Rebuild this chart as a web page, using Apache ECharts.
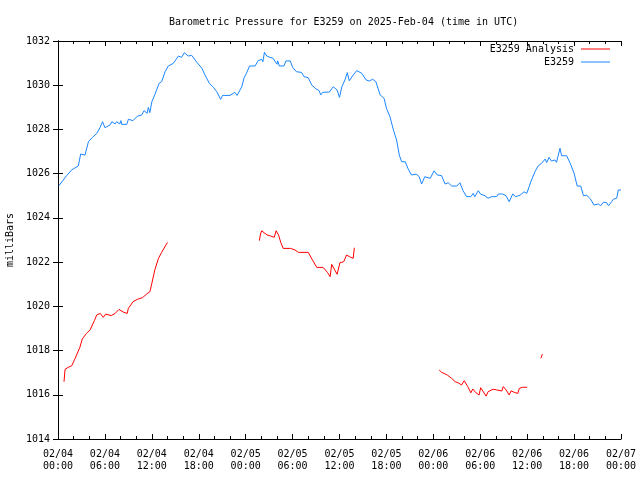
<!DOCTYPE html>
<html>
<head>
<meta charset="utf-8">
<script src="https://cdn.jsdelivr.net/npm/echarts@6/dist/echarts.min.js"></script>
<style>html,body{margin:0;padding:0;background:#fff}#c{width:640px;height:480px}</style>
</head>
<body>
<div id="c"></div>
<script>
// hours since 2025-02-04 00:00 UTC
const blueTime = [0.1,0.26,1.1,1.75,2.6,2.9,3.45,3.9,4.4,4.95,5.4,5.7,6.0,6.65,6.9,7.3,7.5,7.9,8.05,8.15,8.8,9.0,9.6,10.15,10.7,11.0,11.4,11.55,11.75,12.0,12.4,12.6,12.95,13.25,13.7,14.1,14.75,15.4,15.8,16.15,16.65,17.1,17.7,18.4,18.8,19.35,19.86,20.3,20.8,21.05,22.0,22.6,22.9,23.5,23.8,24.1,24.5,25.2,25.6,26.05,26.2,26.4,26.7,27.1,27.5,28.0,28.1,28.3,28.9,29.15,29.7,30.0,30.5,31.15,31.45,32.0,32.45,32.9,33.4,33.6,33.85,34.7,35.2,35.7,36.0,36.3,36.7,37.0,37.25,37.75,38.2,38.85,39.4,39.8,40.25,40.65,41.2,41.7,42.0,42.45,42.9,43.3,43.65,43.95,44.4,44.8,45.2,45.8,46.2,46.5,46.9,47.6,48.1,48.5,49.05,49.5,49.9,50.35,51.0,51.4,51.8,52.25,52.8,53.1,53.3,53.75,54.05,54.6,55.0,55.45,56.1,56.3,56.85,57.3,57.7,58.15,58.55,59.1,59.6,59.95,60.25,60.55,61.0,61.4,61.85,62.3,62.5,62.8,63.1,63.55,63.75,64.2,64.4,65.05,65.5,66.0,66.4,66.85,67.2,67.6,68.1,68.55,69.1,69.4,69.75,70.15,70.4,70.8,71.0,71.45,71.65,72.0];
const bluePressure = [1025.45,1025.52,1025.91,1026.17,1026.35,1026.89,1026.84,1027.45,1027.64,1027.82,1028.10,1028.35,1028.08,1028.2,1028.35,1028.25,1028.35,1028.25,1028.4,1028.23,1028.23,1028.46,1028.4,1028.6,1028.65,1028.85,1028.73,1029.0,1028.76,1029.25,1029.59,1029.78,1030.09,1030.16,1030.61,1030.87,1030.99,1031.32,1031.26,1031.47,1031.32,1031.35,1031.06,1030.77,1030.46,1030.09,1029.91,1029.71,1029.36,1029.54,1029.54,1029.68,1029.54,1029.93,1030.34,1030.54,1030.87,1030.87,1031.11,1031.17,1031.06,1031.49,1031.32,1031.26,1031.22,1030.95,1031.1,1030.87,1030.87,1031.1,1031.1,1030.81,1030.61,1030.58,1030.39,1030.34,1030.01,1029.86,1029.75,1029.56,1029.68,1029.69,1029.93,1029.78,1029.45,1029.93,1030.24,1030.57,1030.2,1030.46,1030.66,1030.54,1030.24,1030.19,1030.27,1030.16,1029.56,1029.41,1028.96,1028.58,1027.97,1027.52,1026.84,1026.54,1026.54,1026.2,1025.94,1025.98,1025.86,1025.53,1025.86,1025.79,1026.13,1025.94,1025.91,1025.53,1025.59,1025.44,1025.44,1025.59,1025.23,1024.96,1024.96,1025.11,1024.96,1025.23,1025.07,1025.0,1024.89,1024.96,1024.96,1025.08,1025.08,1025.0,1024.73,1025.08,1024.96,1025.03,1025.18,1025.11,1025.41,1025.71,1026.09,1026.35,1026.47,1026.66,1026.5,1026.74,1026.57,1026.62,1026.51,1027.15,1026.81,1026.81,1026.47,1026.02,1025.44,1025.44,1025.0,1025.03,1024.85,1024.58,1024.63,1024.55,1024.71,1024.69,1024.55,1024.73,1024.84,1024.89,1025.26,1025.26];
// null marks a gap in the analysis series
const redTime = [0.77,0.9,1.3,1.75,2.2,2.8,3.1,3.65,4.1,4.65,4.95,5.4,5.65,5.8,6.1,6.8,7.3,7.8,8.35,8.85,9.0,9.6,10.15,10.8,11.35,11.75,12.0,12.4,12.85,13.25,14.0,
  20,
  25.75,25.9,26.05,26.35,26.75,27.2,27.65,27.9,28.2,28.5,28.8,29.75,30.3,30.75,32.0,32.55,33.1,33.9,34.45,34.8,35.0,35.4,35.7,36.05,36.55,36.9,37.3,37.75,37.9,
  43,
  48.75,49.05,49.8,50.35,50.8,51.3,51.6,51.95,52.4,52.8,53.05,53.45,53.85,54.05,54.75,55.0,55.65,56.1,56.75,56.95,57.3,57.7,57.95,58.35,58.8,59.0,59.4,60.0,
  61,
  61.75,61.95];
const redPressure = [1016.59,1017.15,1017.24,1017.31,1017.65,1018.15,1018.52,1018.78,1018.93,1019.35,1019.61,1019.68,1019.73,1019.5,1019.65,1019.58,1019.68,1019.86,1019.74,1019.68,1019.91,1020.21,1020.32,1020.39,1020.56,1020.66,1021.04,1021.67,1022.17,1022.44,1022.89,
  null,
  1022.97,1023.27,1023.42,1023.33,1023.23,1023.18,1023.12,1023.42,1023.23,1022.88,1022.62,1022.62,1022.55,1022.44,1022.44,1022.09,1021.76,1021.76,1021.54,1021.34,1021.9,1021.64,1021.45,1021.97,1022.02,1022.32,1022.24,1022.17,1022.65,
  null,
  1017.12,1017.02,1016.89,1016.74,1016.59,1016.52,1016.44,1016.64,1016.37,1016.09,1016.26,1016.09,1015.99,1016.32,1015.94,1016.14,1016.25,1016.22,1016.17,1016.37,1016.22,1015.99,1016.18,1016.11,1016.06,1016.29,1016.34,1016.34,
  null,
  1017.65,1017.84];
const tickDates = ['02/04','02/04','02/04','02/04','02/05','02/05','02/05','02/05','02/06','02/06','02/06','02/06','02/07'];
const tickTimes = ['00:00','06:00','12:00','18:00','00:00','06:00','12:00','18:00','00:00','06:00','12:00','18:00','00:00'];
const seriesNames = ['E3259 Analysis','E3259'];
const titleText = 'Barometric Pressure for E3259 on 2025-Feb-04 (time in UTC)';
const yName = 'milliBars';

const FONT = 'DejaVu Sans Mono';
const chart = echarts.init(document.getElementById('c'), null, {renderer:'canvas'});
const pairs = (t, p) => t.map((x, i) => [x, p[i] === null ? '-' : p[i]]);
const axisBase = {
  type: 'value', min: 0, max: 72, interval: 6,
  axisLine: {lineStyle: {color: '#000', width: 1}},
  axisTick: {inside: true, length: 5, lineStyle: {color: '#000'}},
  minorTick: {show: true, splitNumber: 3, length: 3, lineStyle: {color: '#000'}},
  splitLine: {show: false}
};
chart.setOption({
  animation: false,
  backgroundColor: '#fff',
  textStyle: {fontFamily: FONT},
  title: {text: titleText, left: 164, top: 12,
    textStyle: {fontFamily: FONT, fontSize: 10, fontWeight: 'normal', color: '#000'}},
  legend: [
    {data: [seriesNames[0]], right: 30, top: 44, orient: 'vertical', align: 'right', icon: 'rect',
     itemWidth: 29, itemHeight: 1, itemGap: 0, padding: 0,
     textStyle: {fontFamily: FONT, fontSize: 10, color: '#000', padding: [0, 2, 0, 0]}},
    {data: [seriesNames[1]], right: 30, top: 57, orient: 'vertical', align: 'right', icon: 'rect',
     itemWidth: 29, itemHeight: 1, itemGap: 0, padding: 0,
     textStyle: {fontFamily: FONT, fontSize: 10, color: '#000', padding: [0, 2, 0, 0]}}
  ],
  grid: {left: 58, right: 19, top: 41, bottom: 41, containLabel: false, outerBoundsMode: 'none'},
  xAxis: [
    Object.assign({}, axisBase, {position: 'bottom',
      axisLabel: {margin: 9, fontFamily: FONT, fontSize: 10, color: '#000', lineHeight: 12,
        formatter: v => { const i = Math.round(v / 6); return tickDates[i] + '\n' + tickTimes[i]; }}}),
    Object.assign({}, axisBase, {position: 'top', axisLabel: {show: false}})
  ],
  yAxis: [
    {type: 'value', min: 1014, max: 1032, interval: 2, position: 'left',
     name: yName, nameLocation: 'middle', nameGap: 43, nameRotate: 90,
     nameTextStyle: {fontFamily: FONT, fontSize: 10, color: '#000'},
     axisLine: {show: true, lineStyle: {color: '#000'}},
     axisTick: {inside: true, length: 5, lineStyle: {color: '#000'}},
     axisLabel: {margin: 8, fontFamily: FONT, fontSize: 10, color: '#000', formatter: v => String(v)},
     splitLine: {show: false}},
    {type: 'value', min: 1014, max: 1032, interval: 2, position: 'right',
     axisLine: {show: true, lineStyle: {color: '#000'}},
     axisTick: {inside: true, length: 5, lineStyle: {color: '#000'}},
     axisLabel: {show: false}, splitLine: {show: false}}
  ],
  series: [
    {name: seriesNames[0], type: 'line', data: pairs(redTime, redPressure), connectNulls: false,
     showSymbol: false, symbol: 'none', color: '#ff0000', lineStyle: {width: 1, color: '#ff0000'}},
    {name: seriesNames[1], type: 'line', data: pairs(blueTime, bluePressure),
     showSymbol: false, symbol: 'none', color: '#1a86ff', lineStyle: {width: 1, color: '#1a86ff'}}
  ]
});
</script>
</body>
</html>
